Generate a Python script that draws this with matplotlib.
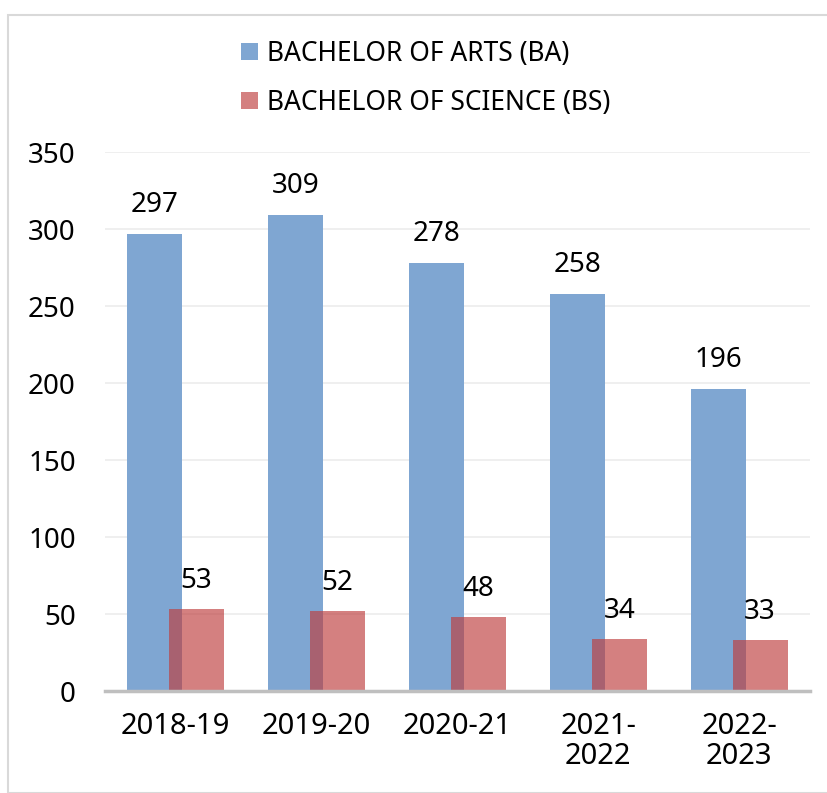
import matplotlib
matplotlib.use("Agg")
import matplotlib.pyplot as plt
from matplotlib.patches import Rectangle
import numpy as np

categories = ["2018-19", "2019-20", "2020-21", "2021-\n2022", "2022-\n2023"]
ba_values = [297, 309, 278, 258, 196]
bs_values = [53, 52, 48, 34, 33]
series_names = ["BACHELOR OF ARTS (BA)", "BACHELOR OF SCIENCE (BS)"]
yticks = [0, 50, 100, 150, 200, 250, 300, 350]

plt.rcParams['font.family'] = ['Noto Sans', 'DejaVu Sans']

fig = plt.figure(figsize=(8.27, 7.93), dpi=100)
ax = fig.add_axes([0.127, 0.1286, 0.852, 0.6797])

x = np.arange(len(categories))
w = 0.39
off = 0.149
blue = "#7fa6d2"
red = (190/255, 62/255, 62/255, 0.66)

b1 = ax.bar(x - off, ba_values, w, color=blue, label=series_names[0], zorder=2)
b2 = ax.bar(x + off, bs_values, w, color=red, label=series_names[1], zorder=3)

fs = 20
for xi, v in zip(x, ba_values):
    ax.annotate(str(v), (xi - off, v), xytext=(0, 29), textcoords="offset pixels",
                ha="center", va="center", fontsize=fs, color="black")
for xi, v in zip(x, bs_values):
    ax.annotate(str(v), (xi + off, v), xytext=(0, 28), textcoords="offset pixels",
                ha="center", va="center", fontsize=fs, color="black")

ax.set_xlim(-0.5, 4.5)
ax.set_ylim(0, 350)
ax.set_yticks(yticks)
ax.set_xticks(x)
ax.set_xticklabels(categories, fontsize=21, linespacing=1.05)
ax.tick_params(axis="y", labelsize=fs, length=0, pad=21)
ax.tick_params(axis="x", length=0, pad=15)
ax.grid(axis="y", color="#ececec", linewidth=1.2, zorder=0)
ax.set_axisbelow(True)
for s in ["left", "right", "top"]:
    ax.spines[s].set_visible(False)
ax.spines["bottom"].set_color("#bfbfbf")
ax.spines["bottom"].set_linewidth(2.5)
ax.spines["bottom"].set_zorder(4)

leg = fig.legend(handles=[b1, b2], labels=series_names, loc="center",
                 bbox_to_anchor=(0.515, 0.901), ncol=1, frameon=False,
                 fontsize=19, handlelength=0.62, handleheight=0.62,
                 handletextpad=0.35, labelspacing=0.8)

fig.patches.append(Rectangle((8/827, 0), 1.0, 1 - 15/793, transform=fig.transFigure,
                             fill=False, edgecolor="#d9d9d9", linewidth=1.5))

fig.savefig("out.png", dpi=100)
